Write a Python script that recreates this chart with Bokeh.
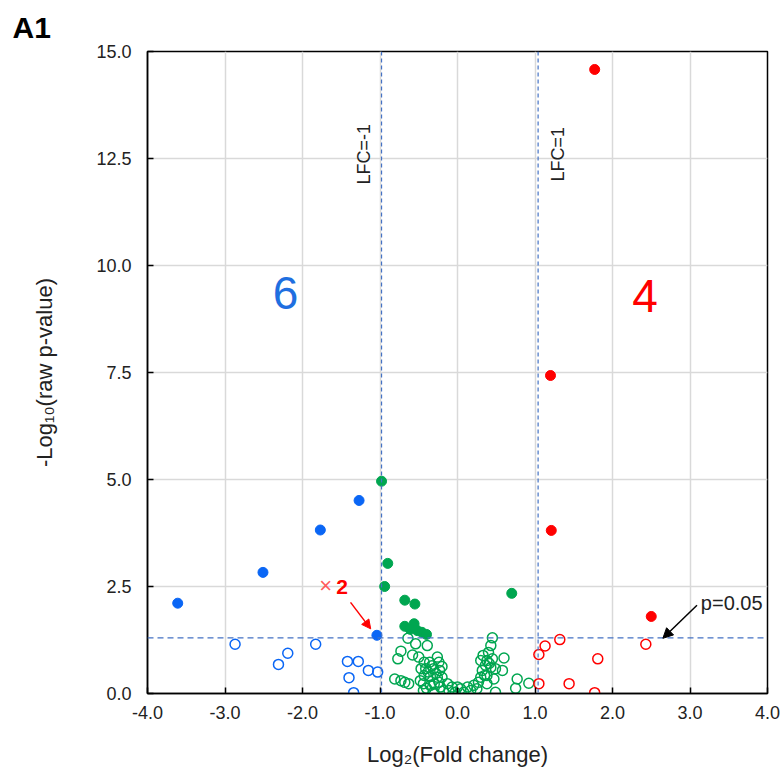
from bokeh.plotting import figure
from bokeh.models import (Range1d, FixedTicker, NumeralTickFormatter, Span, Label,
                          Arrow, NormalHead)
from bokeh.embed import file_html
from bokeh.resources import INLINE
import math

# ---------------- data ----------------
blue_up_x = [-3.61, -2.51, -1.77, -1.27, -1.04]
blue_up_y = [2.11, 2.83, 3.82, 4.51, 1.36]
blue_ns_x = [-2.87, -2.19, -2.31, -1.83, -1.42, -1.28, -1.40, -1.15, -1.03, -1.34]
blue_ns_y = [1.15, 0.94, 0.68, 1.15, 0.75, 0.75, 0.37, 0.54, 0.50, 0.02]

red_up_x = [1.77, 1.20, 1.21, 2.50]
red_up_y = [14.58, 7.43, 3.81, 1.80]
red_ns_x = [1.32, 1.13, 1.05, 1.81, 2.43, 1.05, 1.44, 1.77]
red_ns_y = [1.26, 1.11, 0.91, 0.81, 1.15, 0.23, 0.23, 0.02]

green_sig_x = [-0.98, -0.90, -0.94, -0.68, -0.55, -0.68, -0.56, -0.61, -0.52, -0.46, -0.40, 0.70]
green_sig_y = [4.96, 3.04, 2.50, 2.18, 2.09, 1.57, 1.63, 1.50, 1.47, 1.43, 1.38, 2.34]

green_ns_x = [-0.64, -0.54, -0.39, -0.73, -0.77, -0.58, -0.50, -0.36, -0.24, -0.41,
              -0.31, -0.23, -0.43, -0.35, -0.26, -0.20, -0.81, -0.73, -0.68, -0.63,
              -0.44, -0.44, -0.35, -0.31, -0.22, -0.13, -0.11, -0.07, -0.03, 0.04,
              0.08, 0.13, 0.17, 0.21, 0.25, 0.27, 0.30, 0.32, 0.30, 0.33,
              0.40, 0.43, 0.45, 0.38, 0.45, 0.43, 0.49, 0.60, 0.58, 0.38,
              0.47, 0.38, 0.49, 0.77, 0.75, 0.92, -0.48, -0.24, -0.18, 0.00,
              -0.43, -0.26, -0.20, 0.35, -0.38, -0.33, -0.28, -0.40, 0.36, 0.41,
              -0.47, -0.30]
green_ns_y = [1.29, 1.16, 1.12, 0.99, 0.81, 0.90, 0.85, 0.73, 0.73, 0.58,
              0.58, 0.54, 0.42, 0.40, 0.38, 0.38, 0.34, 0.30, 0.26, 0.23,
              0.23, 0.07, 0.19, 0.03, 0.15, 0.23, 0.07, 0.15, 0.03, 0.11,
              0.03, 0.15, 0.07, 0.19, 0.11, 0.26, 0.38, 0.54, 0.77, 0.89,
              0.96, 1.12, 1.30, 0.77, 0.81, 0.61, 0.58, 0.83, 0.54, 0.42,
              0.34, 0.23, 0.03, 0.34, 0.12, 0.24, 0.30, 0.26, 0.07, 0.15,
              0.73, 0.85, 0.63, 0.42, 0.50, 0.65, 0.47, 0.12, 0.66, 0.70,
              0.58, 0.22]

x_ticks = [-4, -3, -2, -1, 0, 1, 2, 3, 4]
y_ticks = [0, 2.5, 5, 7.5, 10, 12.5, 15]
lfc_neg_line = -0.98
lfc_pos_line = 1.04
p_line = 1.30
n_down_label = "6"
n_up_label = "4"
panel_tag = "A1"

BLUE = "#0A66F5"
GREEN = "#00A650"
RED = "#FF0000"
LINE_BLUE = "#4472C4"
FONT = "Liberation Sans"

p = figure(width=783, height=781, output_backend="svg", toolbar_location=None,
           x_range=Range1d(-4, 4), y_range=Range1d(0, 15),
           min_border_left=147, min_border_right=16, min_border_top=51,
           min_border_bottom=88, title=panel_tag)
p.background_fill_color = "white"
p.border_fill_color = "white"
p.outline_line_color = "black"
p.outline_line_width = 1.5

p.title.text_font = FONT
p.title.text_font_size = "30px"
p.title.text_font_style = "bold"
p.title.text_color = "black"
p.title.align = "left"
p.title.offset = -135
p.title.standoff = 16

for ax in (p.xaxis[0], p.yaxis[0]):
    ax.axis_line_color = "black"
    ax.axis_line_width = 1.5
    ax.major_tick_in = 6
    ax.major_tick_out = 0
    ax.minor_tick_line_color = None
    ax.major_tick_line_color = "black"
    ax.major_tick_line_width = 1.5
    ax.major_label_text_font = FONT
    ax.major_label_text_font_size = "18px"
    ax.major_label_text_color = "#222222"
    ax.axis_label_text_font = FONT
    ax.axis_label_text_font_size = "22px"
    ax.axis_label_text_font_style = "normal"
    ax.axis_label_text_color = "#222222"
    ax.formatter = NumeralTickFormatter(format="0.0")

p.xaxis[0].ticker = FixedTicker(ticks=x_ticks)
p.yaxis[0].ticker = FixedTicker(ticks=y_ticks)
p.xaxis[0].major_label_standoff = 12
p.yaxis[0].major_label_standoff = 16
p.xaxis[0].axis_label = "Log\u2082(Fold change)"
p.yaxis[0].axis_label = "-Log\u2081\u2080(raw p-value)"
p.xaxis[0].axis_label_standoff = 20
p.yaxis[0].axis_label_standoff = 36

p.grid.grid_line_color = "#D9D9D9"
p.grid.grid_line_width = 1.5

# threshold lines
p.add_layout(Span(location=lfc_neg_line, dimension="height", line_color=LINE_BLUE,
                  line_dash="4 3", line_width=1.2))
p.add_layout(Span(location=lfc_pos_line, dimension="height", line_color=LINE_BLUE,
                  line_dash="4 3", line_width=1.2))
p.add_layout(Span(location=p_line, dimension="width", line_color=LINE_BLUE,
                  line_dash="6 4", line_width=1.2))

# points
p.scatter(green_ns_x, green_ns_y, size=10, fill_color=None, line_color=GREEN, line_width=1.5)
p.scatter(blue_ns_x, blue_ns_y, size=10, fill_color=None, line_color=BLUE, line_width=1.5)
p.scatter(red_ns_x, red_ns_y, size=10, fill_color=None, line_color=RED, line_width=1.5)
p.scatter(green_sig_x, green_sig_y, size=10, fill_color=GREEN, line_color=GREEN)
p.scatter(blue_up_x, blue_up_y, size=10, fill_color=BLUE, line_color=BLUE)
p.scatter(red_up_x, red_up_y, size=10, fill_color=RED, line_color=RED)

# texts
p.add_layout(Label(x=-2.22, y=9.35, text=n_down_label, text_color="#1F6FE0",
                   text_font=FONT, text_font_size="46px", text_align="center",
                   text_baseline="middle"))
p.add_layout(Label(x=2.42, y=9.29, text=n_up_label, text_color=RED,
                   text_font=FONT, text_font_size="46px", text_align="center",
                   text_baseline="middle"))
p.add_layout(Label(x=-1.21, y=12.6, text="LFC=-1", angle=math.pi / 2,
                   text_font=FONT, text_font_size="18px", text_color="#222222",
                   text_align="center", text_baseline="middle"))
p.add_layout(Label(x=1.30, y=12.6, text="LFC=1", angle=math.pi / 2,
                   text_font=FONT, text_font_size="18px", text_color="#222222",
                   text_align="center", text_baseline="middle"))
p.add_layout(Label(x=3.14, y=2.12, text="p=0.05", text_font=FONT,
                   text_font_size="20px", text_color="#222222",
                   text_align="left", text_baseline="middle"))
p.add_layout(Arrow(x_start=3.09, y_start=2.06, x_end=2.65, y_end=1.29,
                   line_color="black", line_width=1.5,
                   end=NormalHead(size=10, fill_color="black", line_color="black")))
p.add_layout(Label(x=-1.70, y=2.52, text="\u00d7", text_font=FONT,
                   text_font_size="22px", text_color="#FF5A5A",
                   text_align="center", text_baseline="middle"))
p.add_layout(Label(x=-1.49, y=2.50, text="2", text_font=FONT,
                   text_font_size="21px", text_font_style="bold", text_color=RED,
                   text_align="center", text_baseline="middle"))
p.add_layout(Arrow(x_start=-1.38, y_start=2.13, x_end=-1.12, y_end=1.51,
                   line_color=RED, line_width=1.5,
                   end=NormalHead(size=9, fill_color=RED, line_color=RED)))

open("out.html", "w").write(file_html(p, INLINE))
